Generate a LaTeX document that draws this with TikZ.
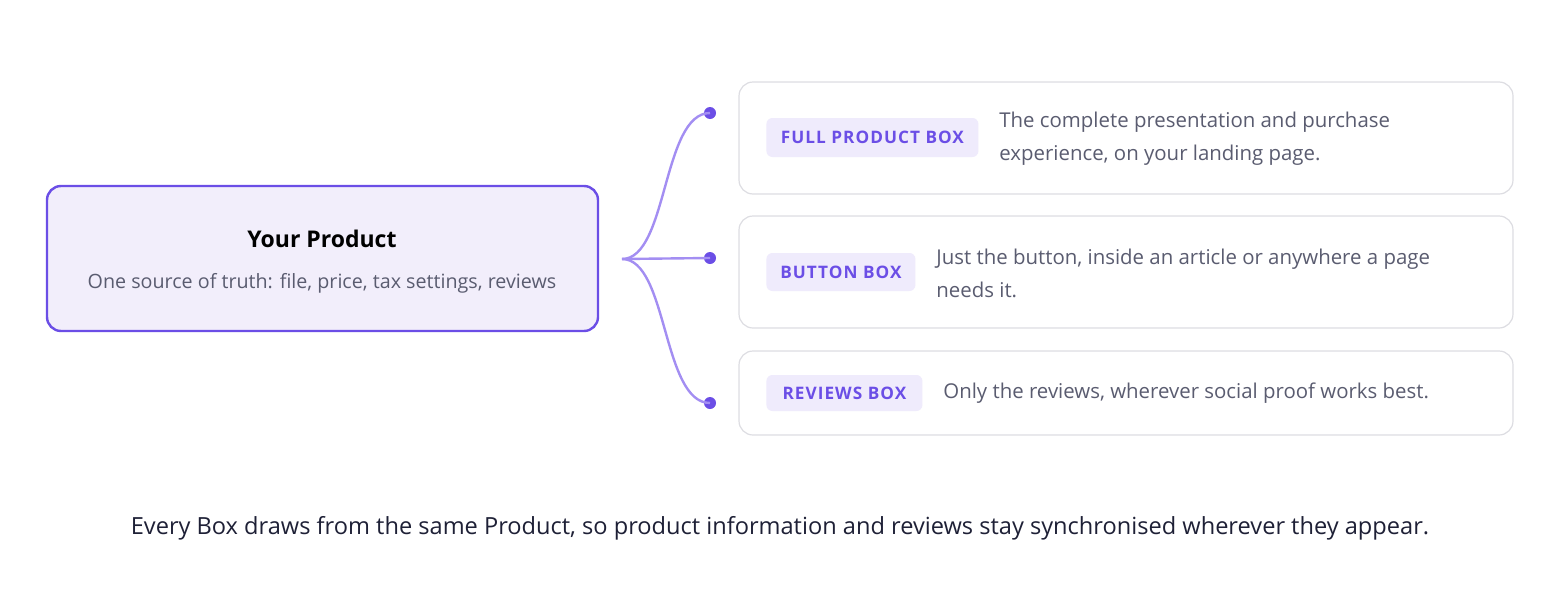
\documentclass[tikz,border=0pt]{standalone}
\usepackage{fontspec}
\setmainfont{Open Sans}
\newfontfamily\tagfont[LetterSpace=6]{Open Sans}
\definecolor{pur}{HTML}{6B4EE6}
\definecolor{purfill}{HTML}{F2EEFB}
\definecolor{tagfill}{HTML}{EFEBFC}
\definecolor{conn}{HTML}{A38EF2}
\definecolor{gtxt}{HTML}{5A5C70}
\definecolor{btxt}{HTML}{1E2036}
\definecolor{bord}{HTML}{DDDDE2}
\begin{document}
\begin{tikzpicture}[x=0.5pt,y=-0.5pt,
  card/.style={draw=bord,line width=0.6pt,rounded corners=7pt,fill=white},
  tag/.style={fill=tagfill,rounded corners=3pt,inner sep=0pt,text=pur,font=\tagfont\bfseries\fontsize{8.6}{10}\selectfont,anchor=west},
  desc/.style={anchor=west,text=gtxt,font=\fontsize{10.2}{16.5}\selectfont,align=left,inner sep=0pt},
  cn/.style={draw=conn,line width=1.2pt},
  dot/.style={circle,fill=pur,inner sep=0pt,minimum size=6pt}]
\useasboundingbox (0,0) rectangle (1564,600);
\draw[draw=pur,fill=purfill,line width=1.2pt,rounded corners=7pt] (47,186) rectangle (598,331);
\node (title) at (322,239) {\bfseries\fontsize{11.5}{14}\selectfont Your Product};
\node[text=gtxt,font=\fontsize{9.85}{12}\selectfont] (sub) at (322,283) {One source of truth: file, price, tax settings, reviews};
\coordinate (src) at (622,259);
\node[dot] (d1) at (710,113) {};
\node[dot] (d2) at (710,258) {};
\node[dot] (d3) at (710,403) {};
\draw[cn] (src) .. controls (668,259) and (662,113) .. (d1.center);
\draw[cn] (src) -- (d2.center);
\draw[cn] (src) .. controls (668,259) and (662,403) .. (d3.center);
\draw[card] (739,82) rectangle (1513,194);
\draw[card] (739,216) rectangle (1513,328);
\draw[card] (739,351) rectangle (1513,435);
\node[tag,minimum width=106pt,minimum height=19.5pt] (t1) at (766,137.5) {FULL PRODUCT BOX};
\node[desc] (x1) at (999,139) {The complete presentation and purchase\\experience, on your landing page.};
\node[tag,minimum width=74.5pt,minimum height=19pt] (t2) at (766,272) {BUTTON BOX};
\node[desc] (x2) at (936,273) {Just the button, inside an article or anywhere a page\\needs it.};
\node[tag,minimum width=78pt,minimum height=18pt] (t3) at (766,393) {REVIEWS BOX};
\node[desc] (x3) at (943,393) {Only the reviews, wherever social proof works best.};
\node[text=btxt,font=\fontsize{11.8}{14}\selectfont] (foot) at (780,528) {Every Box draws from the same Product, so product information and reviews stay synchronised wherever they appear.};
\end{tikzpicture}
\end{document}
